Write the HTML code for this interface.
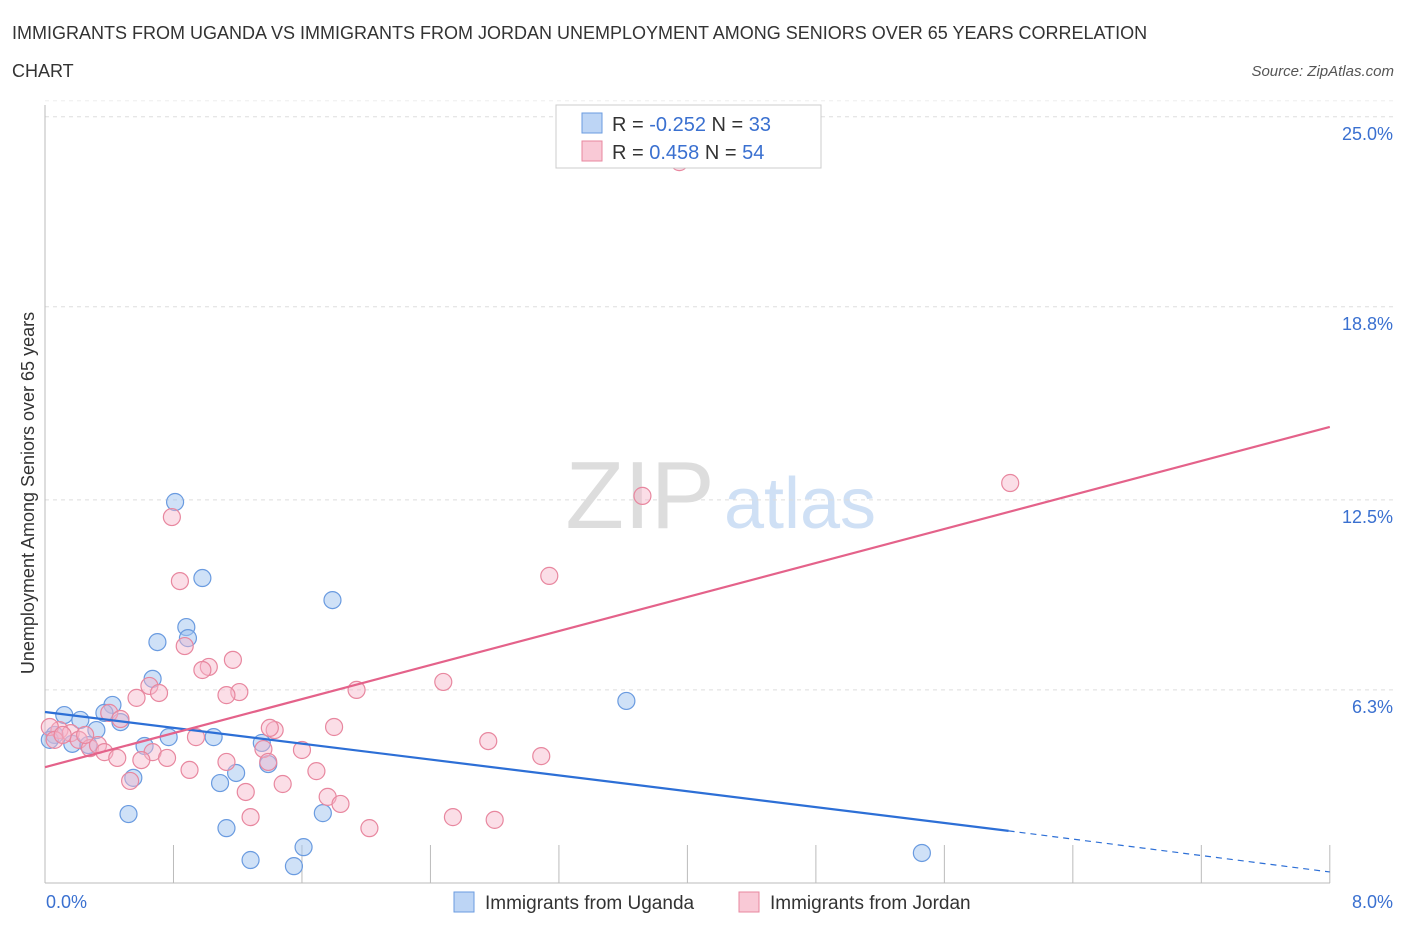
<!DOCTYPE html>
<html><head><meta charset="utf-8"><style>
body{margin:0;background:#fff;font-family:"Liberation Sans",sans-serif;}
svg text{font-family:"Liberation Sans",sans-serif;}
</style></head><body>
<svg id="c" width="1406" height="930" xmlns="http://www.w3.org/2000/svg">
<text x="12" y="39" font-size="18" fill="#333">IMMIGRANTS FROM UGANDA VS IMMIGRANTS FROM JORDAN UNEMPLOYMENT AMONG SENIORS OVER 65 YEARS CORRELATION</text>
<text x="12" y="77" font-size="18" fill="#333">CHART</text>
<text x="1394" y="76" font-size="15" fill="#555" text-anchor="end" font-style="italic">Source: ZipAtlas.com</text>
<text x="640" y="528" font-size="96" fill="#ddd" text-anchor="middle" font-family="Liberation Serif">ZIP</text>
<text x="800" y="528" font-size="72" fill="#cfe0f5" text-anchor="middle">atlas</text>
<text transform="translate(34,493) rotate(-90)" font-size="18" fill="#333" text-anchor="middle">Unemployment Among Seniors over 65 years</text>
<g id="grid"></g><g id="marks"></g>
<g>
<rect x="556" y="105" width="265" height="63" fill="#fff" stroke="#ccc"/>
<rect x="582" y="113" width="20" height="20" fill="#bdd5f5" stroke="#6a9be0"/>
<text x="612" y="131" font-size="20" fill="#333">R = <tspan fill="#3a70d0">-0.252</tspan>   N = <tspan fill="#3a70d0">33</tspan></text>
<rect x="582" y="141" width="20" height="20" fill="#f9c9d6" stroke="#e8879f"/>
<text x="612" y="159" font-size="20" fill="#333">R =  <tspan fill="#3a70d0">0.458</tspan>   N = <tspan fill="#3a70d0">54</tspan></text>
</g>
<g>
<rect x="454" y="892" width="20" height="20" fill="#bdd5f5" stroke="#6a9be0"/>
<text x="485" y="909" font-size="19" fill="#333">Immigrants from Uganda</text>
<rect x="739" y="892" width="20" height="20" fill="#f9c9d6" stroke="#e8879f"/>
<text x="770" y="909" font-size="19" fill="#333">Immigrants from Jordan</text>
</g>
</svg>
<script>
const yTicks=[6.3,12.5,18.8,25.0];
const yTickLabels=["6.3%","12.5%","18.8%","25.0%"];
const xTickLabels=["0.0%","8.0%"];
const ugandaX=[0.81,0.98,1.79,0.70,0.88,0.89,0.67,0.42,0.37,0.47,0.12,0.22,0.32,0.06,0.03,0.17,0.27,0.62,0.77,1.05,1.35,1.19,1.39,0.55,1.09,0.52,1.13,1.73,1.28,1.61,1.55,3.62,5.46];
const ugandaY=[12.43,9.95,9.23,7.86,8.35,7.99,6.66,5.81,5.55,5.25,5.48,5.32,4.99,4.83,4.67,4.54,4.50,4.47,4.76,4.76,4.57,3.59,3.88,3.43,3.26,2.25,1.79,2.28,0.75,1.17,0.55,5.94,0.98];
const jordanX=[3.95,0.79,3.72,6.01,0.84,3.14,0.87,1.02,0.98,1.17,0.65,0.71,0.57,1.21,1.13,1.94,2.48,0.40,0.47,1.43,1.40,1.80,2.76,3.09,0.09,0.16,0.21,0.28,0.33,0.37,0.45,0.67,0.76,0.94,1.13,1.36,1.39,1.60,0.60,0.90,1.69,0.53,1.48,1.25,1.76,1.84,1.28,2.02,2.54,2.80,0.03,0.06,0.11,0.25];
const jordanY=[23.52,11.94,12.63,13.05,9.85,10.02,7.73,7.05,6.95,7.28,6.43,6.20,6.04,6.23,6.13,6.30,6.56,5.55,5.35,4.99,5.06,5.09,4.63,4.14,4.99,4.89,4.67,4.40,4.50,4.27,4.08,4.27,4.08,4.76,3.95,4.37,3.95,4.34,4.01,3.69,3.65,3.33,3.23,2.97,2.81,2.58,2.15,1.79,2.15,2.06,5.09,4.67,4.83,4.83];
const ugandaTrend=[5.58,1.70,0.36]; // at x=0, 6.0, 8.0
const jordanTrend=[3.78,14.88]; // at x=0, 8.0
const NS="http://www.w3.org/2000/svg";
const sx=v=>45+v*160.6, sy=v=>883-v*30.65;
const grid=document.getElementById('grid'), marks=document.getElementById('marks');
function mk(p,tag,a){const e=document.createElementNS(NS,tag);for(const k in a)e.setAttribute(k,a[k]);p.appendChild(e);return e;}
yTicks.forEach((t,i)=>{
 const l=mk(grid,'line',{x1:45,x2:1395,y1:sy(t),y2:sy(t),stroke:'#ddd','stroke-dasharray':'4,4'});
 
 
 const tx=mk(grid,'text',{x:1393,y:sy(t)+23,'font-size':18,fill:'#3a70d0','text-anchor':'end'});
 tx.textContent=yTickLabels[i];
 
 
});
mk(grid,'line',{x1:45,x2:1395,y1:sy(25)-16,y2:sy(25)-16,stroke:'#eee','stroke-dasharray':'4,4'});
const ax=mk(grid,'line',{x1:45,x2:1330,y1:883,y2:883,stroke:'#bbb'});


const ay=mk(grid,'line',{x1:45,x2:45,y1:105,y2:883,stroke:'#bbb'});


for(let i=1;i<=10;i++){const t=mk(grid,'line',{x1:sx(i*0.8),x2:sx(i*0.8),y1:845,y2:883,stroke:'#bbb'});
 
 }
[[0,'start',46],[8,'end',1393]].forEach((d,i)=>{const t=mk(grid,'text',{x:d[2],y:908,'font-size':18,fill:'#3a70d0','text-anchor':d[1]});t.textContent=xTickLabels[i];
 
 });
ugandaX.forEach((x,i)=>{const c=mk(marks,'circle',{cx:sx(x),cy:sy(ugandaY[i]),r:8.5,fill:'rgba(160,196,240,0.5)',stroke:'#6a9be0','stroke-width':1.2});
 
 });
jordanX.forEach((x,i)=>{const c=mk(marks,'circle',{cx:sx(x),cy:sy(jordanY[i]),r:8.5,fill:'rgba(246,182,202,0.45)',stroke:'#e8879f','stroke-width':1.2});
 
 });
const b1=mk(marks,'line',{x1:sx(0),y1:sy(ugandaTrend[0]),x2:sx(6),y2:sy(ugandaTrend[1]),stroke:'#2d6fd6','stroke-width':2.2});


const b2=mk(marks,'line',{x1:sx(6),y1:sy(ugandaTrend[1]),x2:sx(8),y2:sy(ugandaTrend[2]),stroke:'#2d6fd6','stroke-width':1.2,'stroke-dasharray':'6,5'});


const p1=mk(marks,'line',{x1:sx(0),y1:sy(jordanTrend[0]),x2:sx(8),y2:sy(jordanTrend[1]),stroke:'#e4628a','stroke-width':2.2});


</script>
</body></html>
